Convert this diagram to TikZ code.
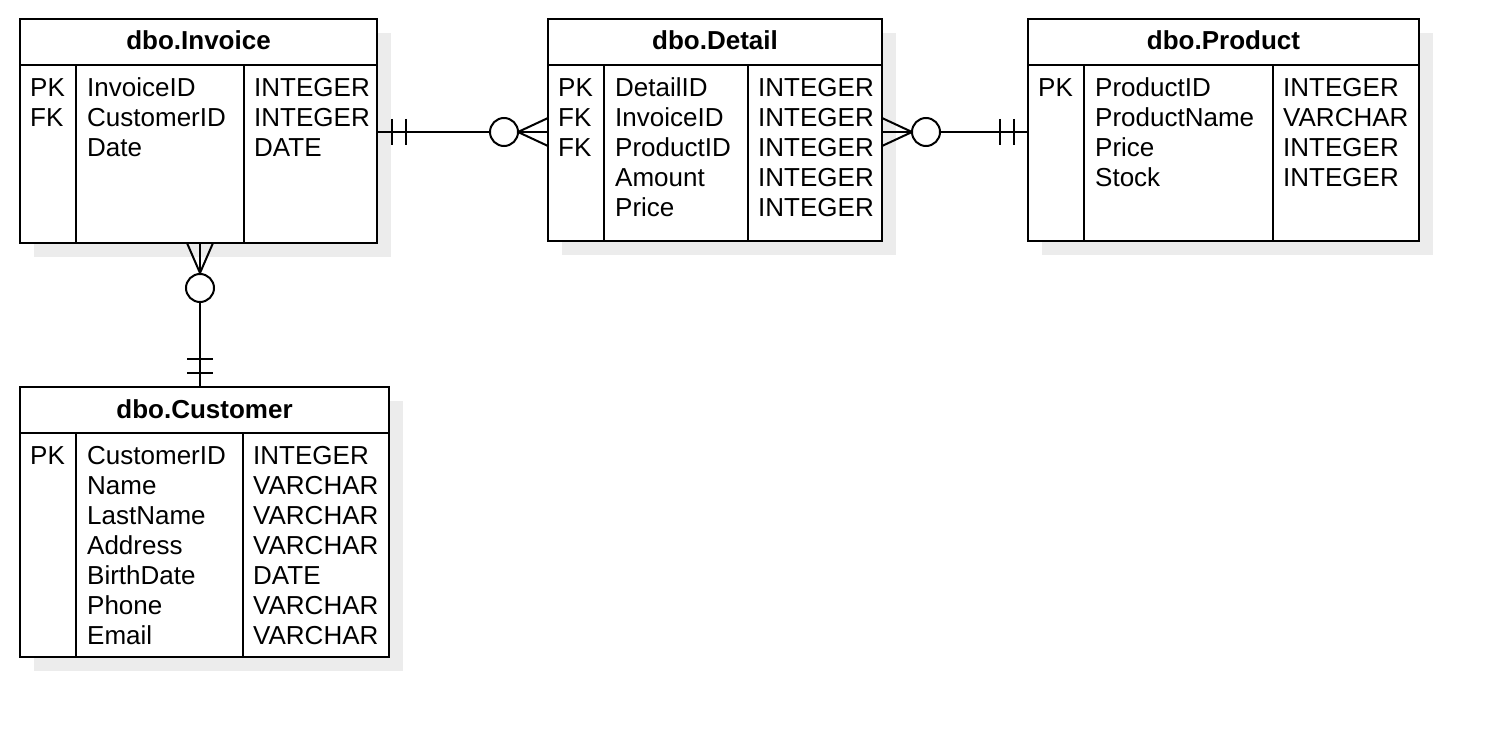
\documentclass[tikz,border=0pt]{standalone}
\usepackage{fontspec}
\setmainfont{Liberation Sans}
\usetikzlibrary{calc,shadows}
\definecolor{shade}{RGB}{236,236,236}
\begin{document}
\begin{tikzpicture}[x=1pt,y=-1pt,
  tbl/.style={draw, line width=2pt, fill=white, outer sep=0pt, inner sep=0pt, anchor=north west,
    drop shadow={shadow xshift=14pt, shadow yshift=-14pt, fill=shade, opacity=1}},
  ln/.style={line width=2pt},
  txt/.style={anchor=north west, inner sep=0pt, align=left, font=\fontsize{26}{30}\selectfont},
  hdr/.style={anchor=base, inner sep=0pt, font=\fontsize{26}{30}\selectfont\bfseries},
  rel/.style={line width=2pt}]
\fill[white] (0,0) rectangle (1498,738);
\useasboundingbox (0,0) rectangle (1498,738);

% tables
\node[tbl, minimum width=357pt, minimum height=224pt] (inv) at (20,19) {};
\node[tbl, minimum width=334pt, minimum height=222pt] (det) at (548,19) {};
\node[tbl, minimum width=391pt, minimum height=222pt] (prod) at (1028,19) {};
\node[tbl, minimum width=369pt, minimum height=270pt] (cust) at (20,387) {};

% inner lines
\foreach \t/\dd in {inv/224, det/200, prod/245, cust/223}{
  \draw[ln] ($(\t.north west)+(0,46)$) -- ($(\t.north east)+(0,46)$);
  \draw[ln] ($(\t.north west)+(56,46)$) -- ($(\t.south west)+(56,0)$);
  \draw[ln] ($(\t.north west)+(\dd,46)$) -- ($(\t.south west)+(\dd,0)$);
}

% headers
\node[hdr] (invh) at ($(inv.north)+(0,31)$) {dbo.Invoice};
\node[hdr] (deth) at ($(det.north)+(0,31)$) {dbo.Detail};
\node[hdr] (prodh) at ($(prod.north)+(0,31)$) {dbo.Product};
\node[hdr] (custh) at ($(cust.north)+(0,31)$) {dbo.Customer};

% Invoice rows
\node[txt] (invk) at ($(inv.north west)+(10,56)$) {\strut PK\\FK};
\node[txt] (inva) at ($(inv.north west)+(67,56)$) {\strut InvoiceID\\CustomerID\\Date};
\node[txt] (invt) at ($(inv.north west)+(234,56)$) {\strut INTEGER\\INTEGER\\DATE};

% Detail rows
\node[txt] (detk) at ($(det.north west)+(10,56)$) {\strut PK\\FK\\FK};
\node[txt] (deta) at ($(det.north west)+(67,56)$) {\strut DetailID\\InvoiceID\\ProductID\\Amount\\Price};
\node[txt] (dett) at ($(det.north west)+(210,56)$) {\strut INTEGER\\INTEGER\\INTEGER\\INTEGER\\INTEGER};

% Product rows
\node[txt] (prodk) at ($(prod.north west)+(10,56)$) {\strut PK};
\node[txt] (proda) at ($(prod.north west)+(67,56)$) {\strut ProductID\\ProductName\\Price\\Stock};
\node[txt] (prodt) at ($(prod.north west)+(255,56)$) {\strut INTEGER\\VARCHAR\\INTEGER\\INTEGER};

% Customer rows
\node[txt] (custk) at ($(cust.north west)+(10,56)$) {\strut PK};
\node[txt] (custa) at ($(cust.north west)+(67,56)$) {\strut CustomerID\\Name\\LastName\\Address\\BirthDate\\Phone\\Email};
\node[txt] (custt) at ($(cust.north west)+(233,56)$) {\strut INTEGER\\VARCHAR\\VARCHAR\\VARCHAR\\DATE\\VARCHAR\\VARCHAR};

% helper coordinates
\coordinate (yrow) at (0,132);
\coordinate (xcol) at (200,0);

% Invoice -- Detail
\path (inv.east |- yrow) coordinate (a1) (det.west |- yrow) coordinate (a2);
\draw[rel] (a1) -- (a2);
\draw[rel] ($(a1)+(15,-13)$) -- ($(a1)+(15,13)$);
\draw[rel] ($(a1)+(29,-13)$) -- ($(a1)+(29,13)$);
\draw[rel] ($(a2)+(0,-14)$) -- ($(a2)+(-30,0)$) -- ($(a2)+(0,14)$);
\draw[rel, fill=white] ($(a2)+(-44,0)$) circle[radius=14];

% Detail -- Product
\path (det.east |- yrow) coordinate (b1) (prod.west |- yrow) coordinate (b2);
\draw[rel] (b1) -- (b2);
\draw[rel] ($(b1)+(0,-14)$) -- ($(b1)+(30,0)$) -- ($(b1)+(0,14)$);
\draw[rel, fill=white] ($(b1)+(44,0)$) circle[radius=14];
\draw[rel] ($(b2)+(-28,-13)$) -- ($(b2)+(-28,13)$);
\draw[rel] ($(b2)+(-14,-13)$) -- ($(b2)+(-14,13)$);

% Invoice -- Customer
\path (inv.south -| xcol) coordinate (c1) (cust.north -| xcol) coordinate (c2);
\draw[rel] (c1) -- (c2);
\draw[rel] ($(c1)+(-13,0)$) -- ($(c1)+(0,30)$) -- ($(c1)+(13,0)$);
\draw[rel, fill=white] ($(c1)+(0,45)$) circle[radius=14];
\draw[rel] ($(c2)+(-13,-28)$) -- ($(c2)+(13,-28)$);
\draw[rel] ($(c2)+(-13,-14)$) -- ($(c2)+(13,-14)$);
\end{tikzpicture}
\end{document}
